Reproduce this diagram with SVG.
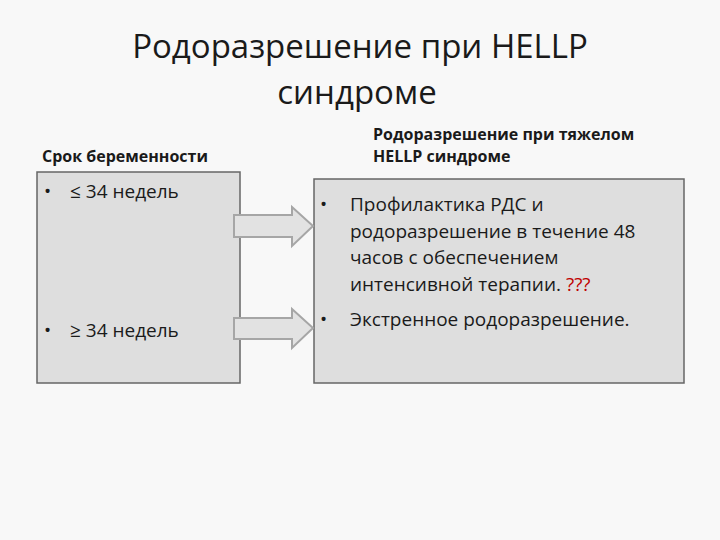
<svg xmlns="http://www.w3.org/2000/svg" width="720" height="540" viewBox="0 0 720 540">
<style>
.t{font-family:"Open Sans","Liberation Sans",sans-serif;fill:#1a1a1a}
.box{fill:#dedede;stroke:#666;stroke-width:1.5}
.arr{fill:#e2e2e2;stroke:#a6a6a6;stroke-width:2}
</style>
<rect width="720" height="540" fill="#f8f8f8"/>
<g id="title"><text class="t" font-size="33" text-anchor="middle" fill="#262626"><tspan x="360" y="58">Родоразрешение при HELLP</tspan><tspan x="357" y="104">синдроме</tspan></text></g>
<g id="hdr-left"><text class="t" x="42" y="162" font-size="16" font-weight="bold">Срок беременности</text></g>
<g id="hdr-right"><text class="t" font-size="16" font-weight="bold"><tspan x="373" y="140">Родоразрешение при тяжелом</tspan><tspan x="373" y="162">HELLP синдроме</tspan></text></g>
<g id="left"><rect class="box" x="37" y="172" width="203" height="211"/>
<text class="t" font-size="19"><tspan x="44" y="198">•</tspan><tspan x="70" y="198">≤ 34 недель</tspan><tspan x="44" y="337">•</tspan><tspan x="70" y="337">≥ 34 недель</tspan></text></g>
<g id="right"><rect class="box" x="314" y="179" width="370" height="204"/>
<text class="t" font-size="19"><tspan x="320" y="211">•</tspan><tspan x="350" y="211">Профилактика РДС и</tspan><tspan x="350" y="238">родоразрешение в течение  48</tspan><tspan x="350" y="264">часов с обеспечением</tspan><tspan x="350" y="291">интенсивной терапии. <tspan fill="#c00000">???</tspan></tspan><tspan x="320" y="326">•</tspan><tspan x="350" y="326">Экстренное родоразрешение.</tspan></text></g>
<g id="connectors">
<path class="arr" d="M234,215H292V207L313,226L292,246V237H234Z"/>
<path class="arr" d="M234,318H292V309L313,328L292,348V339H234Z"/>
</g>
</svg>
